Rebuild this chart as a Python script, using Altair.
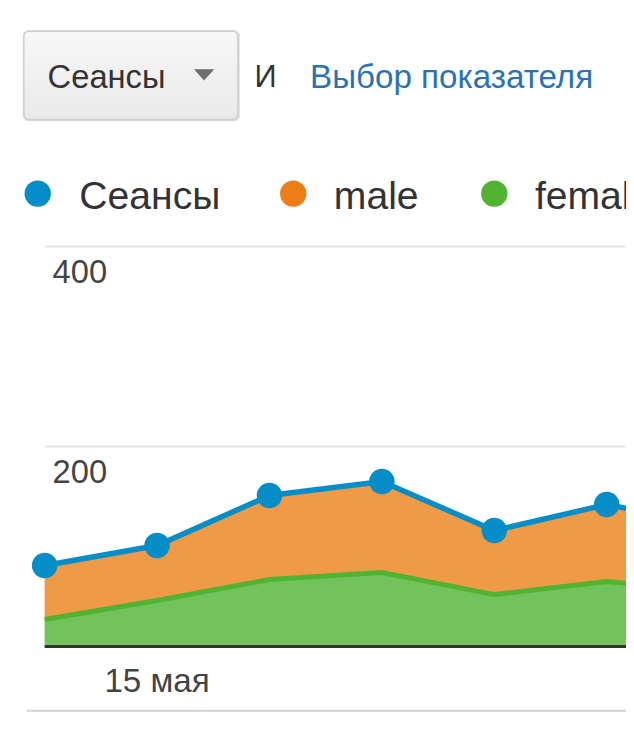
import altair as alt
import pandas as pd

# ---------------- data ----------------
day_index = [0, 1, 2, 3, 4, 5, 6]
sessions = [81, 101, 151, 165, 116, 142, 120]
female = [27, 46, 67, 74, 52, 65, 55]
male = [54, 55, 84, 91, 64, 77, 65]
y_ticks = [200, 400]
y_tick_labels = ["200", "400"]
x_tick_index = [1]
x_tick_labels = ["15 мая"]
series_names = ["Сеансы", "male", "female"]

# ---------------- styles / layout ----------------
FONT = "Liberation Sans"
BLUE = "#058DC7"
ORANGE_DOT = "#ED7E17"
GREEN_DOT = "#50B432"
ORANGE_FILL = "#EF9A47"
GREEN_FILL = "#72C35C"
GREEN_LINE = "#50B432"
W, H = 624, 715
X0, DX = 37, 113.5
Y0, Y400 = 641.3, 237.3
legend_dot_x = [30, 288, 491]
legend_text_x = [72, 329, 532]
legend_colors = [BLUE, ORANGE_DOT, GREEN_DOT]

xs = alt.Scale(domain=[0, 6], range=[X0, X0 + DX * 6], nice=False, zero=False)
ys = alt.Scale(domain=[0, 400], range=[Y0, Y400], nice=False)


def one():
    return pd.DataFrame({"k": [0]})


layers = []

# dropdown button
layers.append(
    alt.Chart(one()).mark_rect(cornerRadius=6, fill="#dddddd").encode(
        x=alt.value(15), x2=alt.value(234), y=alt.value(19), y2=alt.value(111)
    )
)
layers.append(
    alt.Chart(one())
    .mark_rect(
        cornerRadius=5,
        fill=alt.Gradient(
            gradient="linear", x1=0, x2=0, y1=0, y2=1,
            stops=[alt.GradientStop(color="#f8f8f8", offset=0),
                   alt.GradientStop(color="#e9e9e9", offset=1)],
        ),
        stroke="#d0d0d0",
        strokeWidth=1.5,
    )
    .encode(x=alt.value(16), x2=alt.value(232), y=alt.value(20), y2=alt.value(109))
)
layers.append(
    alt.Chart(one()).mark_text(text="Сеансы", align="left", baseline="alphabetic",
                               fontSize=33, font=FONT, color="#333333")
    .encode(x=alt.value(40), y=alt.value(77))
)
layers.append(
    alt.Chart(one()).mark_point(shape="M -1 -0.55 L 1 -0.55 L 0 0.55 Z", size=420,
                                filled=True, fill="#6e6e6e", opacity=1)
    .encode(x=alt.value(198), y=alt.value(64))
)
layers.append(
    alt.Chart(one()).mark_text(text="И", align="left", baseline="alphabetic",
                               fontSize=31, font=FONT, color="#333333")
    .encode(x=alt.value(249), y=alt.value(76))
)
layers.append(
    alt.Chart(one()).mark_text(text="Выбор показателя", align="left", baseline="alphabetic",
                               fontSize=33.5, font=FONT, color="#2A72B5")
    .encode(x=alt.value(305), y=alt.value(77))
)

# legend
for name, col, dx, tx in zip(series_names, legend_colors, legend_dot_x, legend_text_x):
    layers.append(
        alt.Chart(one()).mark_circle(size=707, color=col, opacity=1)
        .encode(x=alt.value(dx), y=alt.value(184))
    )
    layers.append(
        alt.Chart(one()).mark_text(text=name, align="left", baseline="alphabetic",
                                   fontSize=39.5, font=FONT, color="#333333")
        .encode(x=alt.value(tx), y=alt.value(199))
    )

# gridlines
grid_df = pd.DataFrame({"t": y_ticks, "lab": y_tick_labels})
layers.append(
    alt.Chart(grid_df).mark_rule(color="#e6e6e6", strokeWidth=2)
    .encode(y=alt.Y("t:Q", scale=ys, axis=None), x=alt.value(X0), x2=alt.value(W))
)
layers.append(
    alt.Chart(grid_df).mark_text(align="left", baseline="alphabetic", dy=37,
                                 fontSize=33, font=FONT, color="#444444")
    .encode(y=alt.Y("t:Q", scale=ys, axis=None), x=alt.value(45), text="lab:N")
)

# stacked areas
rows = []
for i, f, m in zip(day_index, female, male):
    rows.append({"i": i, "s": "female", "v": f, "o": 0})
    rows.append({"i": i, "s": "male", "v": m, "o": 1})
long_df = pd.DataFrame(rows)
layers.append(
    alt.Chart(long_df).mark_area(clip=True, opacity=1)
    .encode(
        x=alt.X("i:Q", scale=xs, axis=None),
        y=alt.Y("v:Q", scale=ys, axis=None, stack="zero"),
        color=alt.Color("s:N", scale=alt.Scale(domain=["female", "male"],
                                               range=[GREEN_FILL, ORANGE_FILL]), legend=None),
        order=alt.Order("o:Q"),
    )
)

fem_df = pd.DataFrame({"i": day_index, "v": female})
layers.append(
    alt.Chart(fem_df).mark_line(clip=True, color=GREEN_LINE, strokeWidth=5)
    .encode(x=alt.X("i:Q", scale=xs, axis=None), y=alt.Y("v:Q", scale=ys, axis=None))
)

# baseline
layers.append(
    alt.Chart(pd.DataFrame({"t": [0]})).mark_rule(color="#333333", strokeWidth=3)
    .encode(y=alt.Y("t:Q", scale=ys, axis=None), x=alt.value(X0), x2=alt.value(W))
)

# sessions line + points
ses_df = pd.DataFrame({"i": day_index, "v": sessions})
layers.append(
    alt.Chart(ses_df).mark_line(clip=True, color=BLUE, strokeWidth=5.5)
    .encode(x=alt.X("i:Q", scale=xs, axis=None), y=alt.Y("v:Q", scale=ys, axis=None))
)
layers.append(
    alt.Chart(ses_df).mark_circle(clip=True, color=BLUE, size=660, opacity=1)
    .encode(x=alt.X("i:Q", scale=xs, axis=None), y=alt.Y("v:Q", scale=ys, axis=None))
)

# x labels
xl_df = pd.DataFrame({"i": x_tick_index, "lab": x_tick_labels})
layers.append(
    alt.Chart(xl_df).mark_text(align="center", baseline="alphabetic", fontSize=33.5,
                               font=FONT, color="#444444")
    .encode(x=alt.X("i:Q", scale=xs, axis=None), y=alt.value(687), text="lab:N")
)

# bottom separator
layers.append(
    alt.Chart(one()).mark_rule(color="#d2d2d2", strokeWidth=2)
    .encode(x=alt.value(19), x2=alt.value(W), y=alt.value(706))
)

chart = (
    alt.layer(*layers)
    .properties(width=W, height=H, autosize=alt.AutoSizeParams(type="none"), padding=0,
                background="white")
    .configure_view(stroke=None)
)

chart.save("out.html", embed_options={"renderer": "svg", "actions": False})
